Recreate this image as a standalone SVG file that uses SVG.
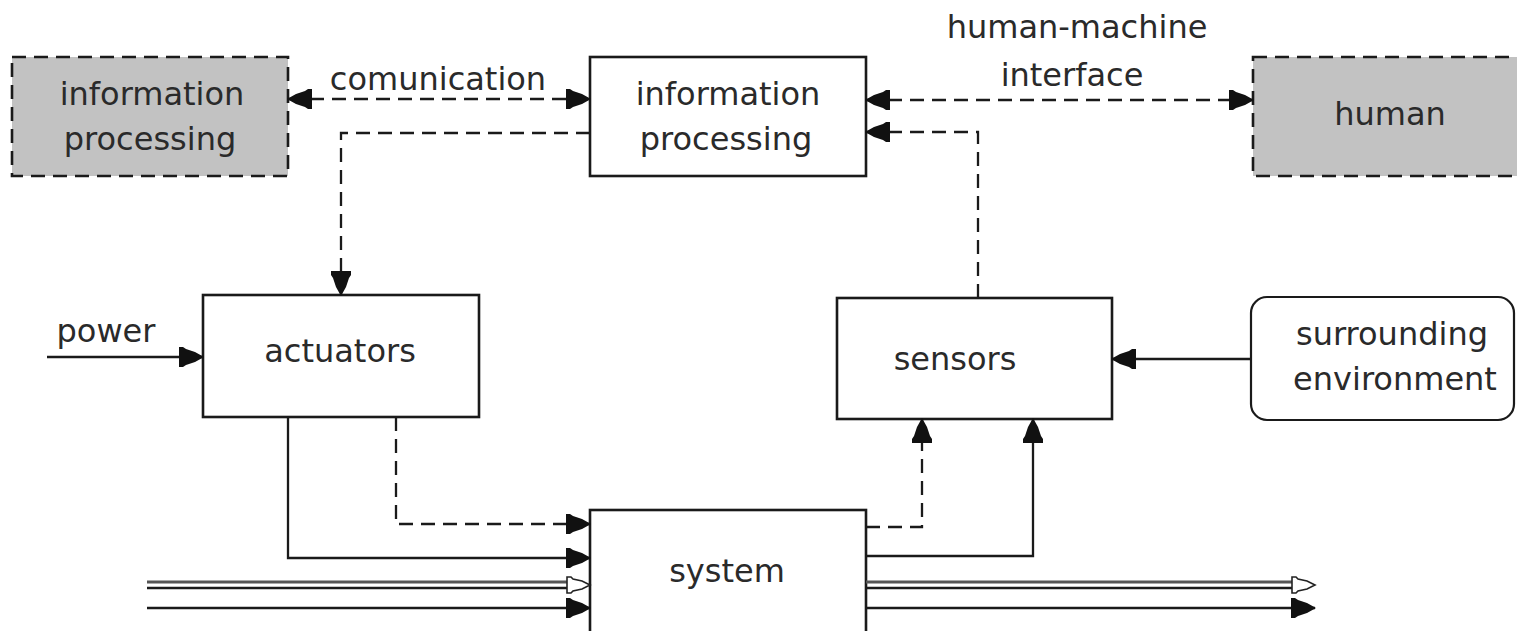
<svg xmlns="http://www.w3.org/2000/svg" width="1517" height="631" viewBox="0 0 1517 631">
  <style>
    .box { fill: #ffffff; stroke: #1a1a1a; stroke-width: 2.6; }
    .ext { fill: #c2c2c2; stroke: #1a1a1a; stroke-width: 2.6; stroke-dasharray: 14 8; }
    .env { fill: #ffffff; stroke: #1a1a1a; stroke-width: 2.2; }
    .lbl { font-family: "DejaVu Sans", Verdana, sans-serif; font-size: 32px; fill: #2a2a2a; text-anchor: middle; }
    .solid { fill: none; stroke: #1a1a1a; stroke-width: 2.3; }
    .dash { fill: none; stroke: #1a1a1a; stroke-width: 2.3; stroke-dasharray: 14 8; }
    .grey { fill: none; stroke: #555555; stroke-width: 3; }
    .head { fill: #111111; }
    .open { fill: #ffffff; stroke: #222222; stroke-width: 1.6; }
  </style>
  <defs>
    <marker id="arrow" viewBox="-25 -11 26 22" refX="0" refY="0" markerWidth="26" markerHeight="22" markerUnits="userSpaceOnUse" orient="auto-start-reverse">
      <path class="head" d="M1,0 L-8,-5 L-17,-8 L-20,-10 L-24,-10 L-24,10 L-20,10 L-17,8 L-8,5 Z"/>
    </marker>
    <path id="openhead" class="open" d="M0,0 L-8,-4 L-17,-6 L-19,-8 L-23,-8 L-23,8 L-19,8 L-17,6 L-8,4 Z"/>
  </defs>

  <!-- remote information processing (external) -->
  <g id="remote-processing">
    <rect class="ext" x="12" y="57" width="276" height="119"/>
    <text class="lbl" x="152" y="105">information</text>
    <text class="lbl" x="150" y="150">processing</text>
  </g>

  <!-- local information processing -->
  <g id="information-processing">
    <rect class="box" x="590" y="57" width="276" height="119"/>
    <text class="lbl" x="728" y="105">information</text>
    <text class="lbl" x="726" y="150">processing</text>
  </g>

  <!-- human operator (external) -->
  <g id="human">
    <rect class="ext" x="1253" y="57" width="290" height="119"/>
    <text class="lbl" x="1390" y="125">human</text>
  </g>

  <g id="actuators">
    <rect class="box" x="203" y="295" width="276" height="122"/>
    <text class="lbl" x="340" y="362">actuators</text>
  </g>

  <g id="sensors">
    <rect class="box" x="837" y="298" width="275" height="121"/>
    <text class="lbl" x="955" y="370">sensors</text>
  </g>

  <g id="surrounding-environment">
    <rect class="env" x="1251" y="297" width="263" height="123" rx="16" ry="16"/>
    <text class="lbl" x="1392" y="345">surrounding</text>
    <text class="lbl" x="1395" y="390">environment</text>
  </g>

  <g id="system">
    <rect class="box" x="590" y="510" width="276" height="135"/>
    <text class="lbl" x="727" y="582">system</text>
  </g>

  <!-- connector labels -->
  <g id="labels">
    <text class="lbl" x="438" y="90">comunication</text>
    <text class="lbl" x="1077" y="38">human-machine</text>
    <text class="lbl" x="1072" y="86">interface</text>
    <text class="lbl" x="106" y="342">power</text>
  </g>

  <g id="connectors">
    <!-- communication between processing units -->
    <path class="dash" d="M288,99 H590" marker-start="url(#arrow)" marker-end="url(#arrow)"/>
    <!-- human-machine interface -->
    <path class="dash" d="M866,100 H1253" marker-start="url(#arrow)" marker-end="url(#arrow)"/>
    <!-- processing to actuators -->
    <path class="dash" d="M590,133 H341 V295" marker-end="url(#arrow)"/>
    <!-- sensors to processing -->
    <path class="dash" d="M978,298 V132 H866" marker-end="url(#arrow)"/>
    <!-- power supply -->
    <path class="solid" d="M47,357 H203" marker-end="url(#arrow)"/>
    <!-- environment to sensors -->
    <path class="solid" d="M1251,359 H1112" marker-end="url(#arrow)"/>
    <!-- actuators to system -->
    <path class="dash" d="M396,417 V524 H590" marker-end="url(#arrow)"/>
    <path class="solid" d="M288,417 V558 H590" marker-end="url(#arrow)"/>
    <!-- system to sensors -->
    <path class="dash" d="M866,527 H922 V419" marker-end="url(#arrow)"/>
    <path class="solid" d="M866,556 H1033 V419" marker-end="url(#arrow)"/>
    <!-- material flow in / out (double line) -->
    <path class="grey" d="M147,582 H570"/>
    <path class="solid" d="M147,588 H570"/>
    <use href="#openhead" transform="translate(590,585)"/>
    <path class="grey" d="M866,582 H1295"/>
    <path class="solid" d="M866,588 H1295"/>
    <use href="#openhead" transform="translate(1315,585)"/>
    <!-- energy flow in / out -->
    <path class="solid" d="M147,608 H590" marker-end="url(#arrow)"/>
    <path class="solid" d="M866,608 H1315" marker-end="url(#arrow)"/>
  </g>
</svg>
